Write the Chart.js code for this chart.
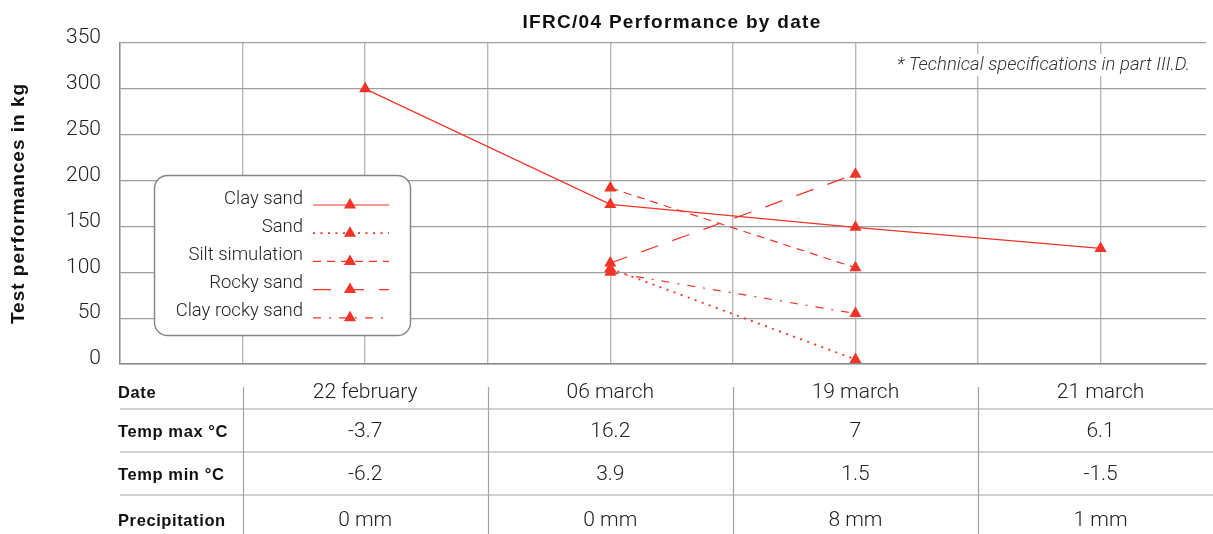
<!DOCTYPE html>
<html>
<head>
<meta charset="utf-8">
<title>IFRC/04 Performance by date</title>
<script src="https://cdn.jsdelivr.net/npm/chart.js@4/dist/chart.umd.min.js"></script>
<style>
  html, body { margin: 0; padding: 0; background: #fff; overflow: hidden; }
  #wrap { width: 1213px; height: 534px; position: relative; }
</style>
</head>
<body>
<div id="wrap"><canvas id="chart"></canvas></div>
<script>
'use strict';

// data
var dates = ['22 february', '06 march', '19 march', '21 march'];
var claySand = [300, 174, 149, 126];
var sand = [null, 104, 5, null];
var siltSimulation = [null, 192, 105, null];
var rockySand = [null, 110, 207, null];
var clayRockySand = [null, 100, 55, null];
var tempMax = ['-3.7', '16.2', '7', '6.1'];
var tempMin = ['-6.2', '3.9', '1.5', '-1.5'];
var precipitation = ['0 mm', '0 mm', '8 mm', '1 mm'];
var rowLabels = ['Date', 'Temp max °C', 'Temp min °C', 'Precipitation'];
var yMin = 0, yMax = 350, yStep = 50;
var chartTitle = 'IFRC/04 Performance by date';
var yTitle = 'Test performances in kg';
var note = '* Technical specifications in part III.D.';

var RED = 'rgb(240,52,40)';
var LIGHT = "'Helvetica Neue', Roboto, 'Liberation Sans', Arial, sans-serif";
var BOLD = "Helvetica, 'Liberation Sans', Arial, sans-serif";

function toPoints(values) {
  var pts = [];
  for (var i = 0; i < values.length; i++) {
    if (values[i] !== null) pts.push({ x: i, y: values[i] });
  }
  return pts;
}

function series(label, values, dash, width) {
  return {
    label: label,
    data: toPoints(values),
    borderColor: RED,
    backgroundColor: RED,
    borderWidth: width || 1.2,
    borderDash: dash,
    pointStyle: 'triangle',
    pointRadius: 7,
    pointBorderWidth: 0,
    pointBackgroundColor: RED,
    tension: 0,
    clip: false
  };
}

function triangle(ctx, x, y, r) {
  ctx.beginPath();
  ctx.moveTo(x, y - r);
  ctx.lineTo(x + Math.sin(2 * Math.PI / 3) * r, y + r / 2);
  ctx.lineTo(x - Math.sin(2 * Math.PI / 3) * r, y + r / 2);
  ctx.closePath();
  ctx.fill();
}

var textPlugin = {
  id: 'texts',
  beforeDatasetsDraw: function (chart) {
    var ctx = chart.ctx;
    var area = chart.chartArea;
    ctx.save();
    // note in the top right corner, on a white patch
    ctx.font = 'italic 300 18.5px ' + LIGHT;
    var w = ctx.measureText(note).width;
    ctx.fillStyle = '#fff';
    ctx.fillRect(1190 - w - 4, 54, w + 8, 22);
    ctx.fillStyle = '#333';
    ctx.textAlign = 'right';
    ctx.textBaseline = 'middle';
    ctx.fillText(note, 1190, 65);

    // chart title
    ctx.fillStyle = '#111';
    ctx.textAlign = 'center';
    ctx.font = 'bold 19px ' + BOLD;
    ctx.letterSpacing = '1.3px';
    ctx.fillText(chartTitle, 672, 23);

    // y axis title
    ctx.letterSpacing = '1px';
    ctx.translate(19, (area.top + area.bottom) / 2);
    ctx.rotate(-Math.PI / 2);
    ctx.fillText(yTitle, 0, 0);
    ctx.restore();
  }
};

var legendPlugin = {
  id: 'boxLegend',
  afterDatasetsDraw: function (chart) {
    var ctx = chart.ctx;
    ctx.save();
    ctx.beginPath();
    ctx.roundRect(154.5, 175.5, 256, 160, 13);
    ctx.fillStyle = '#fff';
    ctx.fill();
    ctx.strokeStyle = '#8c827e';
    ctx.lineWidth = 1.4;
    ctx.stroke();

    ctx.font = '300 18.5px ' + LIGHT;
    ctx.textAlign = 'right';
    ctx.textBaseline = 'middle';
    chart.data.datasets.forEach(function (ds, i) {
      var ty = 199 + i * 28.2;
      var ly = ty + 6;
      ctx.fillStyle = '#222';
      ctx.fillText(ds.label, 303, ty);
      ctx.strokeStyle = RED;
      ctx.lineWidth = ds.borderWidth;
      ctx.setLineDash(ds.borderDash || []);
      ctx.beginPath();
      ctx.moveTo(313, ly);
      ctx.lineTo(389, ly);
      ctx.stroke();
      ctx.setLineDash([]);
      ctx.fillStyle = RED;
      triangle(ctx, 350, ly, 7);
    });
    ctx.restore();
  }
};

var tablePlugin = {
  id: 'table',
  afterDraw: function (chart) {
    var ctx = chart.ctx;
    var xs = chart.scales.x;
    var area = chart.chartArea;
    var rows = [dates, tempMax, tempMin, precipitation];
    var rowY = [393, 432, 475, 521];
    var lineY = [409, 452, 495];
    ctx.save();
    ctx.strokeStyle = '#a3a3a3';
    ctx.lineWidth = 1.2;
    lineY.forEach(function (y) {
      ctx.beginPath();
      ctx.moveTo(area.left, y);
      ctx.lineTo(chart.width, y);
      ctx.stroke();
    });
    for (var i = 0; i < dates.length; i++) {
      var sx = Math.round(xs.getPixelForValue(i - 0.5)) + 0.5;
      ctx.beginPath();
      ctx.moveTo(sx, 387);
      ctx.lineTo(sx, chart.height);
      ctx.stroke();
    }
    ctx.textBaseline = 'middle';
    ctx.fillStyle = '#111';
    ctx.textAlign = 'left';
    ctx.font = 'bold 16.5px ' + BOLD;
    ctx.letterSpacing = '0.6px';
    rowLabels.forEach(function (lab, r) {
      ctx.fillText(lab, 118, rowY[r]);
    });
    ctx.letterSpacing = '0px';
    ctx.fillStyle = '#222';
    ctx.textAlign = 'center';
    ctx.font = '300 21px ' + LIGHT;
    rows.forEach(function (vals, r) {
      vals.forEach(function (v, i) {
        ctx.fillText(v, xs.getPixelForValue(i), rowY[r]);
      });
    });
    ctx.restore();
  }
};

new Chart(document.getElementById('chart'), {
  type: 'line',
  data: {
    datasets: [
      series('Clay sand', claySand, []),
      series('Sand', sand, [2, 5.5], 1.8),
      series('Silt simulation', siltSimulation, [8, 6]),
      series('Rocky sand', rockySand, [18, 15]),
      series('Clay rocky sand', clayRockySand, [8, 8, 2, 8])
    ]
  },
  options: {
    responsive: true,
    maintainAspectRatio: false,
    animation: false,
    layout: { padding: { left: 0, right: 0, top: 43, bottom: 170 } },
    plugins: {
      legend: { display: false },
      tooltip: { enabled: false },
      title: { display: false }
    },
    scales: {
      x: {
        type: 'linear',
        min: -1,
        max: 3.43,
        ticks: { display: false, stepSize: 0.5 },
        grid: {
          drawTicks: false,
          color: function (c) {
            return c.tick && c.tick.value > 3.2 ? 'rgba(0,0,0,0)' : '#b8b8b8';
          },
          lineWidth: 1.4
        },
        border: { display: true, color: '#8a8a8a', width: 1.6 },
        afterFit: function (scale) { scale.height = 0; }
      },
      y: {
        min: yMin,
        max: yMax,
        ticks: {
          stepSize: yStep,
          padding: 19,
          labelOffset: -5,
          color: '#222',
          font: { size: 21, weight: '300', family: LIGHT }
        },
        grid: { drawTicks: false, color: '#9e9e9e', lineWidth: 1.2 },
        border: { display: true, color: '#8a8a8a', width: 1.4 },
        afterFit: function (scale) { scale.width = 120; }
      }
    }
  },
  plugins: [textPlugin, legendPlugin, tablePlugin]
});
</script>
</body>
</html>
